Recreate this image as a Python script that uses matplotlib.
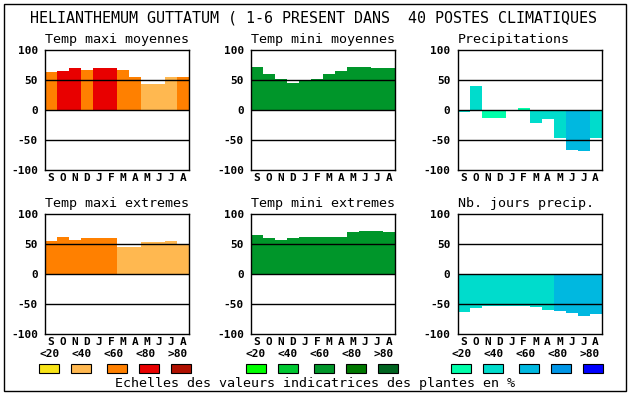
import numpy as np
import matplotlib
matplotlib.use("Agg")
import matplotlib.pyplot as plt
from matplotlib.patches import Rectangle

months = ["S", "O", "N", "D", "J", "F", "M", "A", "M", "J", "J", "A"]
yticks = [-100, -50, 0, 50, 100]
ytick_labels = ["-100", "-50", "0", "50", "100"]
scale_labels = ["<20", "<40", "<60", "<80", ">80"]

# palettes (<20, <40, <60, <80, >80)
pal_tmax = ["#F8E418", "#FFB850", "#FF8000", "#E80000", "#B01000"]
pal_tmin = ["#00FF00", "#00C832", "#00962A", "#007800", "#006420"]
pal_prec = ["#00FFAA", "#00DCCC", "#00B8E0", "#0096E6", "#0000FF"]

# values + scale class (index into palette) per month
tmax_moy = [63, 65, 70, 67, 70, 70, 67, 55, 44, 44, 55, 55]
tmax_moy_cls = [2, 3, 3, 2, 3, 3, 2, 2, 1, 1, 1, 2]
tmin_moy = [72, 60, 52, 45, 50, 52, 60, 65, 72, 72, 70, 70]
tmin_moy_cls = [2] * 12
precip = [-4, 40, -13, -13, 0, 4, -21, -15, -46, -66, -68, -46]
precip_cls = [1, 1, 0, 0, 0, 0, 1, 1, 1, 2, 2, 1]

tmax_ext = [55, 62, 57, 60, 60, 60, 45, 45, 54, 54, 55, 48]
tmax_ext_cls = [2, 2, 2, 2, 2, 2, 1, 1, 1, 1, 1, 1]
tmin_ext = [65, 60, 57, 60, 62, 62, 62, 62, 70, 72, 72, 70]
tmin_ext_cls = [2] * 12
nb_jours = [-64, -57, -54, -54, -54, -54, -55, -60, -62, -65, -70, -67]
nb_jours_cls = [1, 1, 1, 1, 1, 1, 1, 1, 2, 2, 2, 2]

W, H = 630, 394
mono = "DejaVu Sans Mono"
fig = plt.figure(figsize=(W / 100, H / 100), dpi=100)
fig.patch.set_facecolor("white")

over = fig.add_axes([0, 0, 1, 1])
over.set_xlim(0, W)
over.set_ylim(H, 0)
over.axis("off")
over.add_patch(Rectangle((4, 4), 622, 387, fill=False, lw=1.0, ec="black"))
over.text(30, 18, "HELIANTHEMUM GUTTATUM ( 1-6 PRESENT DANS  40 POSTES CLIMATIQUES",
          family=mono, fontsize=10.8, va="center", ha="left")
over.text(115, 387, "Echelles des valeurs indicatrices des plantes en %",
          family=mono, fontsize=9.6, va="baseline", ha="left")


def panel(x0, y0, title, vals, cls, pal):
    ax = fig.add_axes([x0 / W, 1 - (y0 + 120) / H, 144 / W, 120 / H])
    ax.bar(np.arange(12), vals, width=1, align="edge",
           color=[pal[c] for c in cls], linewidth=0, zorder=1)
    for y in (-50, 0, 50):
        ax.axhline(y, color="black", lw=1.0, zorder=3)
    ax.set_xlim(0, 12)
    ax.set_ylim(-100, 100)
    ax.set_xticks(np.arange(12) + 0.5)
    ax.set_xticklabels(months, family=mono, fontweight="bold", fontsize=8)
    ax.set_yticks(yticks)
    ax.set_yticklabels(ytick_labels, family=mono, fontweight="bold", fontsize=8)
    ax.tick_params(length=0, pad=5, axis="y")
    ax.tick_params(length=0, pad=2, axis="x")
    for s in ax.spines.values():
        s.set_linewidth(1.0)
    over.text(x0, y0 - 7, title, family=mono, fontsize=9.6, va="baseline", ha="left")
    return ax


cols = [45, 251, 457.5]
panel(cols[0], 50, "Temp maxi moyennes", tmax_moy, tmax_moy_cls, pal_tmax)
panel(cols[1], 50, "Temp mini moyennes", tmin_moy, tmin_moy_cls, pal_tmin)
panel(cols[2], 50, "Precipitations", precip, precip_cls, pal_prec)
panel(cols[0], 214, "Temp maxi extremes", tmax_ext, tmax_ext_cls, pal_tmax)
panel(cols[1], 214, "Temp mini extremes", tmin_ext, tmin_ext_cls, pal_tmin)
panel(cols[2], 214, "Nb. jours precip.", nb_jours, nb_jours_cls, pal_prec)

# legend scales
box_off = [0, 32, 68, 100, 132]
for base, pal in zip([39.3, 245.7, 451.3], [pal_tmax, pal_tmin, pal_prec]):
    for k in range(5):
        over.text(base + 10 + 32 * k, 354, scale_labels[k], family=mono,
                  fontweight="bold", fontsize=8, ha="center", va="center")
        over.add_patch(Rectangle((base + box_off[k], 364), 20, 9,
                                 fc=pal[k], ec="black", lw=0.8))

fig.savefig("out.png", dpi=100)
